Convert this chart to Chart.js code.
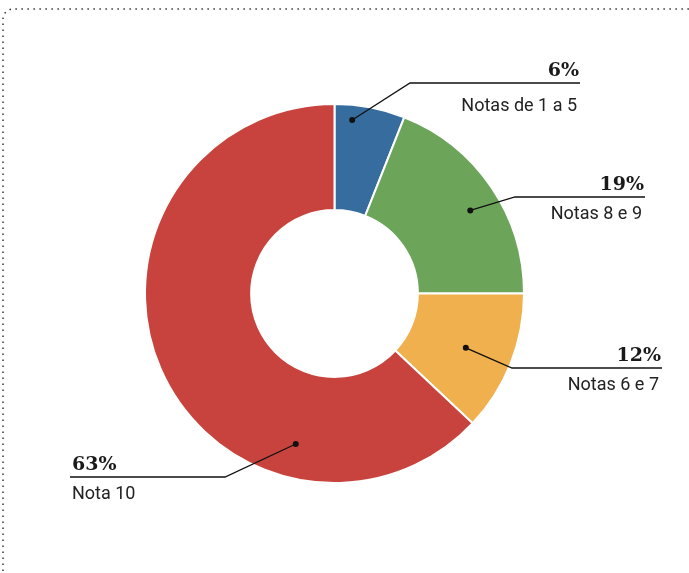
<!DOCTYPE html>
<html>
<head>
<meta charset="utf-8">
<script src="https://cdn.jsdelivr.net/npm/chart.js@4"></script>
<style>
  html, body { margin: 0; padding: 0; background: #fff; }
  canvas { display: block; }
</style>
</head>
<body>
<canvas id="notasChart" width="689" height="573"></canvas>
<script>
// slices, clockwise from 12 o'clock
const categories = ['Notas de 1 a 5', 'Notas 8 e 9', 'Notas 6 e 7', 'Nota 10'];
const shares = [6, 19, 12, 63];
const sliceColors = ['#376c9f', '#6ca55a', '#efb04d', '#c8433d'];

// where each callout sits: dot inside the slice (fraction of the sweep / of the radius),
// elbow of the leader and the far end of the rule
const callouts = [
  { at: 0.27, r: 0.92, elbow: [410, 83], end: 580, below: 28 },
  { at: 0.54, r: 0.84, elbow: [515, 197], end: 645, below: 22 },
  { at: 0.52, r: 0.75, elbow: [512, 368], end: 662, below: 22 },
  { at: 0.27, r: 0.82, elbow: [225, 477], end: 70, below: 22 }
];

// dotted frame with a rounded corner, running off the right and bottom edges
const framePlugin = {
  id: 'frame',
  beforeDraw(chart) {
    const ctx = chart.ctx;
    const x = 3, y = 9, rad = 10;
    ctx.save();
    ctx.strokeStyle = '#333';
    ctx.lineWidth = 1.5;
    ctx.setLineDash([1.5, 4.5]);
    ctx.beginPath();
    ctx.moveTo(x, chart.height + 10);
    ctx.lineTo(x, y + rad);
    ctx.arcTo(x, y, x + rad, y, rad);
    ctx.lineTo(chart.width + 10, y);
    ctx.stroke();
    ctx.restore();
  }
};

const calloutPlugin = {
  id: 'callouts',
  afterDatasetsDraw(chart) {
    const ctx = chart.ctx;
    const meta = chart.getDatasetMeta(0);
    ctx.save();
    meta.data.forEach((arc, i) => {
      const c = callouts[i];
      const p = arc.getProps(['x', 'y', 'startAngle', 'endAngle', 'outerRadius'], true);
      const a = p.startAngle + (p.endAngle - p.startAngle) * c.at;
      const px = p.x + Math.cos(a) * p.outerRadius * c.r;
      const py = p.y + Math.sin(a) * p.outerRadius * c.r;
      const [ex, ey] = c.elbow;

      ctx.strokeStyle = '#111';
      ctx.lineWidth = 1.3;
      ctx.beginPath();
      ctx.moveTo(px, py);
      ctx.lineTo(ex, ey);
      ctx.lineTo(c.end, ey);
      ctx.stroke();

      ctx.fillStyle = '#111';
      ctx.beginPath();
      ctx.arc(px, py, 3, 0, Math.PI * 2);
      ctx.fill();

      const right = c.end > ex;
      ctx.textAlign = right ? 'right' : 'left';
      ctx.textBaseline = 'alphabetic';
      const tx = right ? c.end - 1 : c.end + 2;

      ctx.fillStyle = '#1a1a1a';
      ctx.font = 'bold 19px "DejaVu Serif"';
      ctx.fillText(shares[i] + '%', tx, ey - 7);

      ctx.fillStyle = '#222';
      ctx.font = '18px Roboto';
      ctx.fillText(categories[i], tx - (right ? 2 : 0), ey + c.below);
    });
    ctx.restore();
  }
};

new Chart(document.getElementById('notasChart'), {
  type: 'doughnut',
  data: {
    labels: categories,
    datasets: [{
      data: shares,
      backgroundColor: sliceColors,
      borderColor: '#ffffff',
      borderWidth: 2
    }]
  },
  options: {
    responsive: false,
    animation: false,
    cutout: '44%',
    layout: { padding: { left: 144, right: 164, top: 103, bottom: 89 } },
    plugins: {
      legend: { display: false },
      tooltip: { enabled: false }
    }
  },
  plugins: [framePlugin, calloutPlugin]
});
</script>
</body>
</html>
